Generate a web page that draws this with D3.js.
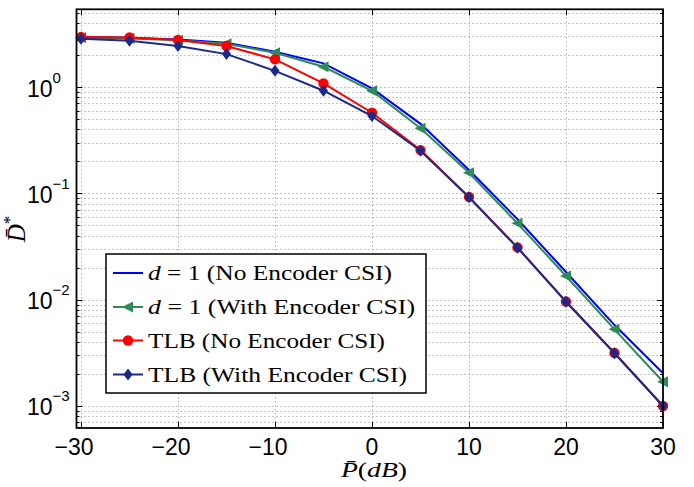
<!DOCTYPE html>
<html lang="en">
<head>
	<meta charset="UTF-8">
	<title>D* vs P</title>
	<script src="https://d3js.org/d3.v7.min.js"></script>
	<style>
		body{ margin:0; background:#fff; }
		.grid{ fill:none; stroke:#8a8a8a; stroke-width:1px; stroke-dasharray:1,3; }
		.tick-lab{ font-family:"Liberation Sans", Arial, sans-serif; font-size:23px; fill:#000; }
		.serif{ font-family:"Liberation Serif", "DejaVu Serif", serif; fill:#000; }
		.line{ fill:none; stroke-width:2px; }
	</style>
</head>
<body>
	<script type="text/javascript">
		// data
		var pdB = [-30, -25, -20, -15, -10, -5, 0, 5, 10, 15, 20, 25, 30];
		var d1NoCSI   = [2.95, 2.90, 2.80, 2.61, 2.15, 1.67, 0.970, 0.450, 0.166, 0.0570, 0.0182, 0.00577, 0.00203];
		var d1WithCSI = [2.90, 2.86, 2.75, 2.55, 2.10, 1.55, 0.920, 0.410, 0.156, 0.0522, 0.0167, 0.00526, 0.00169];
		var tlbNoCSI  = [2.95, 2.93, 2.77, 2.43, 1.82, 1.08, 0.573, 0.255, 0.0925, 0.0310, 0.00960, 0.00315, 0.00100];
		var tlbWithCSI= [2.85, 2.73, 2.43, 2.04, 1.42, 0.923, 0.534, 0.252, 0.0917, 0.0308, 0.00956, 0.00313, 0.00100];
		var seriesNames = ["No Encoder CSI", "With Encoder CSI"];
		var xTicks = [-30, -20, -10, 0, 10, 20, 30];
		var yTicks = [1e-3, 1e-2, 1e-1, 1];
		var yTickExp = ["\u22123", "\u22122", "\u22121", "0"];

		var W = 694, H = 487;
		var frame = {left: 76.5, right: 663, top: 9.3, bottom: 428};

		var x = d3.scaleLinear().domain([-30, 30]).range([81, 663]);
		var y = d3.scaleLog().domain([Math.pow(10, -3.207), Math.pow(10, 0.731)]).range([frame.bottom, frame.top]);

		var svg = d3.select("body").append("svg")
			.attr("width", W)
			.attr("height", H);

		// grid
		var minor = [];
		[-4, -3, -2, -1, 0].forEach(function(e){
			for (var m = 1; m <= 9; m++){
				var v = m * Math.pow(10, e);
				if (v >= y.domain()[0] && v <= y.domain()[1]) minor.push(v);
			}
		});
		var g = svg.append("g");
		g.selectAll(".hg").data(minor).enter().append("line")
			.attr("class", "grid")
			.attr("x1", frame.left).attr("x2", frame.right)
			.attr("y1", function(d){ return Math.round(y(d)) + 0.5; })
			.attr("y2", function(d){ return Math.round(y(d)) + 0.5; });
		g.selectAll(".vg").data(xTicks).enter().append("line")
			.attr("class", "grid")
			.attr("y1", frame.top).attr("y2", frame.bottom)
			.attr("x1", function(d){ return Math.round(x(d)) + 0.5; })
			.attr("x2", function(d){ return Math.round(x(d)) + 0.5; });

		// ticks (inward on all four sides)
		var tk = svg.append("g").attr("stroke", "#000").attr("stroke-width", 1);
		minor.forEach(function(v){
			var len = yTicks.indexOf(v) >= 0 ? 6 : 3;
			var yy = Math.round(y(v)) + 0.5;
			tk.append("line").attr("x1", frame.left).attr("x2", frame.left + len).attr("y1", yy).attr("y2", yy);
			tk.append("line").attr("x1", frame.right).attr("x2", frame.right - len).attr("y1", yy).attr("y2", yy);
		});
		xTicks.forEach(function(v){
			var xx = Math.round(x(v)) + 0.5;
			tk.append("line").attr("x1", xx).attr("x2", xx).attr("y1", frame.bottom).attr("y2", frame.bottom - 6);
			tk.append("line").attr("x1", xx).attr("x2", xx).attr("y1", frame.top).attr("y2", frame.top + 6);
		});

		// series
		var series = [
			{vals: d1NoCSI,    color: "#0000ff", marker: null,       name: ["d", " = 1 (" + seriesNames[0] + ")"], len: 244},
			{vals: d1WithCSI,  color: "#2e8b57", marker: "triangle", name: ["d", " = 1 (" + seriesNames[1] + ")"], len: 267},
			{vals: tlbNoCSI,   color: "#ff0000", marker: "circle",   name: [null, "TLB (" + seriesNames[0] + ")"], len: 237},
			{vals: tlbWithCSI, color: "#1b2a8a", marker: "diamond",  name: [null, "TLB (" + seriesNames[1] + ")"], len: 259}
		];
		var markerPath = {
			triangle: "M-6,0L5,-5.5L5,5.5Z",
			diamond: "M0,-6L4.6,0L0,6L-4.6,0Z"
		};
		function drawMarker(sel, s, cx, cy){
			if (!s.marker) return;
			if (s.marker === "circle"){
				sel.append("circle").attr("cx", cx).attr("cy", cy).attr("r", 5.2).attr("fill", s.color);
			} else {
				sel.append("path").attr("d", markerPath[s.marker])
					.attr("transform", "translate(" + cx + "," + cy + ")")
					.attr("fill", s.color);
			}
		}

		var line = d3.line()
			.x(function(d, i){ return x(pdB[i]); })
			.y(function(d){ return y(d); });

		series.forEach(function(s){
			var sg = svg.append("g");
			sg.append("path").datum(s.vals)
				.attr("class", "line")
				.attr("stroke", s.color)
				.attr("d", line);
			s.vals.forEach(function(v, i){ drawMarker(sg, s, x(pdB[i]), y(v)); });
		});

		// frame
		svg.append("rect")
			.attr("x", frame.left).attr("y", frame.top)
			.attr("width", frame.right - frame.left).attr("height", frame.bottom - frame.top)
			.attr("fill", "none").attr("stroke", "#000").attr("stroke-width", 1.8);

		// tick labels
		svg.selectAll(".xl").data(xTicks).enter().append("text")
			.attr("class", "tick-lab")
			.attr("text-anchor", "middle")
			.attr("x", function(d){ return x(d) + (d < 0 ? -7 : 0); })
			.attr("y", 455)
			.text(function(d){ return d < 0 ? "\u2212" + Math.abs(d) : d; });

		yTicks.forEach(function(v, i){
			var t = svg.append("text").attr("class", "tick-lab")
				.attr("x", 27).attr("y", y(v) + 9.5);
			t.append("tspan").text("10");
			t.append("tspan").attr("font-size", 15).attr("dy", -14).text(yTickExp[i]);
		});

		// axis titles
		var xt = svg.append("text").attr("class", "serif")
			.attr("x", 341).attr("y", 477)
			.attr("font-size", 21)
			.attr("textLength", 66)
			.attr("lengthAdjust", "spacingAndGlyphs");
		xt.append("tspan").attr("font-style", "italic").text("P\u0304");
		xt.append("tspan").text("(");
		xt.append("tspan").attr("font-style", "italic").text("dB");
		xt.append("tspan").text(")");

		var yt = svg.append("text").attr("class", "serif")
			.attr("text-anchor", "middle")
			.attr("transform", "translate(25,229) rotate(-90)")
			.attr("font-size", 25);
		yt.append("tspan").attr("font-style", "italic").text("D\u0304");
		yt.append("tspan").attr("font-size", 17).attr("dy", -10).text("*");

		// legend
		var lg = svg.append("g");
		lg.append("rect")
			.attr("x", 106).attr("y", 254).attr("width", 320).attr("height", 139)
			.attr("fill", "#fff").attr("stroke", "#000").attr("stroke-width", 1.5);
		var rowY = [273, 307, 340.5, 374.5];
		series.forEach(function(s, i){
			var cy = rowY[i];
			lg.append("line").attr("x1", 113).attr("x2", 143).attr("y1", cy).attr("y2", cy)
				.attr("stroke", s.color).attr("stroke-width", 2);
			drawMarker(lg, s, 128, cy);
			var t = lg.append("text").attr("class", "serif")
				.attr("x", 148).attr("y", cy + 7)
				.attr("font-size", 20)
				.attr("textLength", s.len)
				.attr("lengthAdjust", "spacingAndGlyphs");
			if (s.name[0]) t.append("tspan").attr("font-style", "italic").text(s.name[0]);
			t.append("tspan").text(s.name[1]);
		});
	</script>
</body>
</html>
